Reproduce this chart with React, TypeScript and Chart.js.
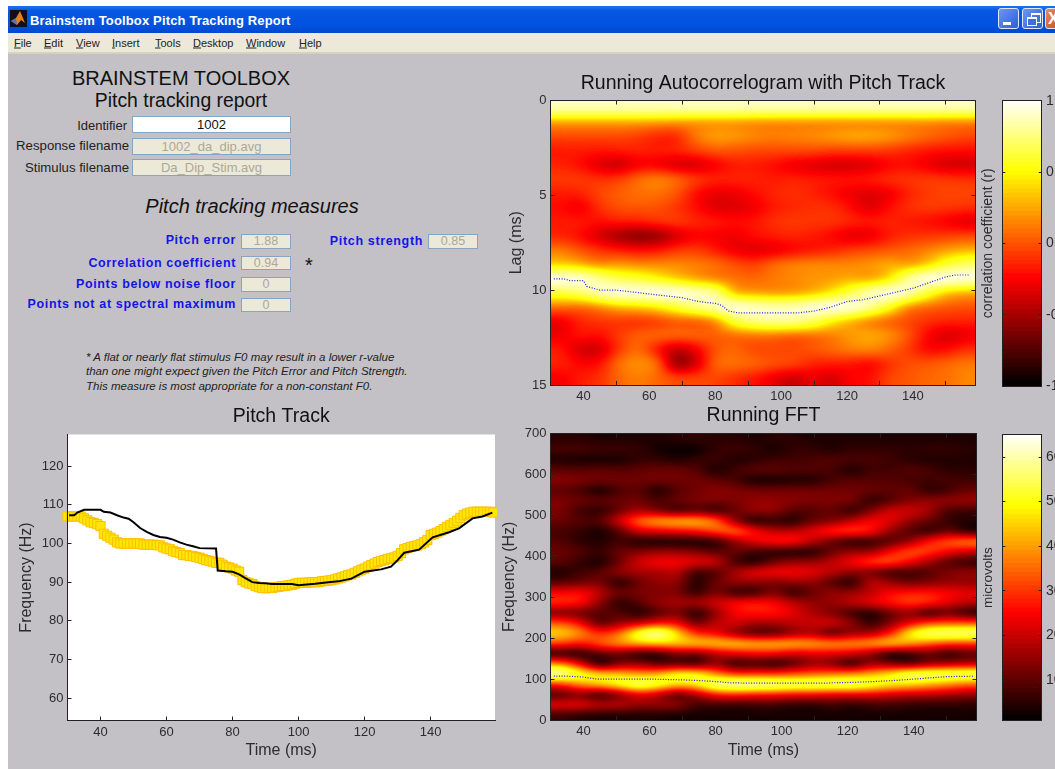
import React, { useEffect, useRef } from "react";
import { Chart, registerables } from "chart.js";

Chart.register(...registerables);
Chart.defaults.font.family = "'Liberation Sans', Arial, sans-serif";
Chart.defaults.color = "#2a2a2a";

// ---------- data ----------
const acfTimes = [33, 39, 45, 50, 56, 62, 68, 74, 80, 86, 92, 98, 103, 109, 115, 121, 127, 133, 139, 144, 150, 156];
const acfLags = [0.375, 1.125, 1.875, 2.625, 3.375, 4.125, 4.875, 5.625, 6.375, 7.125, 7.875, 8.625, 9.375, 10.125, 10.875, 11.625, 12.375, 13.125, 13.875, 14.625];
const acfValues = [
  [86, 86, 86, 86, 86, 86, 86, 86, 86, 86, 86, 86, 86, 86, 86, 86, 86, 86, 86, 86, 86, 86],
  [22, 22, 22, 22, 22, 20, 18, 18, 18, 18, 16, 15, 15, 15, 15, 15, 15, 15, 15, 15, 12, 12],
  [-5, -5, -5, -5, -8, -15, -15, 10, 22, 20, 15, 12, 14, 16, 20, 24, 24, 20, 12, 5, 0, -5],
  [-18, -18, -20, -18, -16, -18, -15, -8, 0, -2, -5, -5, -5, -5, -8, -8, -8, -10, -15, -20, -22, -22],
  [-15, -22, -35, -42, -28, -28, -38, -38, -28, -18, -18, -22, -30, -35, -38, -38, -35, -25, -22, -30, -38, -38],
  [-8, -8, -12, -8, 5, 14, 5, -8, -15, -15, -15, -18, -15, -18, -20, -20, -18, -12, -10, -8, -10, -12],
  [-18, -16, -5, 2, 8, 8, 0, -22, -32, -30, -22, -15, -12, -15, -22, -30, -35, -30, -15, -8, -5, -5],
  [-22, -30, -12, -2, 0, -2, -10, -22, -35, -35, -30, -18, -14, -12, -12, -22, -36, -22, -12, -8, -10, -12],
  [-18, -18, -22, -18, -18, -12, -8, -14, -18, -22, -20, -12, -8, -10, -10, -14, -18, -15, -18, -22, -28, -35],
  [-15, -22, -38, -52, -62, -58, -38, -26, -28, -30, -22, -18, -15, -18, -24, -35, -32, -18, -12, -10, -8, -5],
  [10, -2, -12, -18, -22, -20, -10, -8, -18, -30, -35, -32, -25, -20, -15, -8, -5, 0, 5, 12, 22, 28],
  [36, 28, 15, 20, 15, 15, 15, 12, 8, -2, -8, 5, 12, 15, 15, 15, 18, 25, 20, 35, 60, 70],
  [98, 95, 80, 65, 60, 50, 35, 22, 12, 8, 5, 10, 15, 18, 20, 25, 22, 40, 80, 98, 98, 95],
  [62, 70, 87, 97, 98, 100, 98, 90, 80, 28, 22, 18, 20, 28, 45, 65, 87, 100, 87, 60, 33, 25],
  [8, 5, 15, 30, 35, 45, 60, 75, 87, 97, 90, 87, 87, 95, 100, 97, 80, 55, 15, 5, 0, -2],
  [-30, -15, -10, -10, -12, -8, 0, 0, 15, 62, 75, 80, 80, 70, 48, 28, 12, 2, -5, -12, -15, -15],
  [-30, -20, -22, -8, 2, 5, 5, 5, 2, 5, 8, 8, 2, 5, 10, 20, 25, 18, 0, -25, -38, -30],
  [-18, -38, -40, -10, 8, -20, -45, -30, 0, 5, -5, -5, -5, 0, 5, 12, 15, 5, -8, -25, -22, -12],
  [-15, -25, -22, 8, 18, 8, -60, -40, 5, 8, 5, -2, -5, -15, -18, -20, -25, -12, -2, 0, 5, 10],
  [-28, -18, -12, 5, 12, 5, -5, -5, -5, -12, -20, -30, -42, -30, -38, -25, -22, -5, 0, 5, 8, 15],
];

const fftFreqs = [687.5, 662.5, 637.5, 612.5, 587.5, 562.5, 537.5, 512.5, 487.5, 462.5, 437.5, 412.5, 387.5, 362.5, 337.5, 312.5, 287.5, 262.5, 237.5, 212.5, 187.5, 162.5, 137.5, 112.5, 87.5, 62.5, 37.5, 12.5];
const fftValues = [
  [4, 4, 3, 3, 3, 3, 4, 5, 4, 4, 3, 4, 4, 3, 3, 3, 3, 3, 3, 3, 3, 3],
  [7, 7, 6, 6, 5, 2, 1, 1, 5, 6, 5, 2, 5, 5, 3, 5, 5, 5, 4, 5, 5, 4],
  [3, 2, 2, 2, 5, 5, 3, 5, 6, 3, 4, 6, 6, 7, 8, 7, 7, 6, 4, 3, 3, 3],
  [9, 8, 9, 8, 9, 10, 10, 8, 2, 6, 9, 9, 8, 8, 7, 3, 6, 6, 8, 7, 4, 4],
  [13, 12, 11, 11, 11, 11, 11, 11, 9, 7, 2, 2, 3, 3, 7, 8, 8, 8, 7, 6, 7, 6],
  [9, 7, 2, 7, 9, 3, 8, 11, 13, 12, 11, 11, 11, 11, 11, 11, 10, 9, 10, 4, 6, 10],
  [12, 10, 9, 10, 11, 7, 10, 12, 12, 12, 14, 14, 13, 12, 12, 12, 4, 8, 12, 14, 14, 15],
  [12, 6, 4, 10, 16, 12, 6, 9, 5, 10, 14, 14, 8, 8, 10, 4, 12, 20, 20, 16, 7, 6],
  [10, 8, 8, 20, 34, 40, 42, 42, 35, 14, 3, 5, 3, 10, 12, 18, 24, 22, 14, 10, 5, 3],
  [7, 5, 2, 8, 20, 22, 24, 26, 32, 35, 25, 18, 18, 22, 28, 30, 26, 14, 8, 4, 10, 4],
  [8, 4, 3, 6, 3, 2, 2, 2, 4, 14, 22, 26, 26, 18, 10, 4, 5, 8, 14, 26, 32, 36],
  [10, 8, 5, 10, 12, 14, 14, 12, 8, 10, 6, 4, 3, 3, 10, 14, 14, 24, 32, 30, 24, 20],
  [9, 5, 2, 10, 20, 24, 24, 22, 20, 6, 3, 10, 14, 14, 18, 24, 30, 32, 24, 16, 8, 5],
  [3, 6, 8, 14, 16, 16, 18, 6, 8, 16, 22, 24, 24, 22, 18, 14, 12, 6, 6, 8, 12, 14],
  [8, 10, 12, 3, 10, 14, 14, 3, 10, 14, 14, 12, 14, 14, 8, 3, 18, 14, 10, 12, 14, 14],
  [24, 25, 18, 10, 12, 12, 12, 4, 12, 5, 5, 12, 4, 10, 14, 14, 18, 24, 26, 26, 24, 22],
  [28, 26, 14, 4, 8, 14, 16, 16, 20, 24, 26, 24, 18, 14, 14, 18, 22, 26, 30, 28, 22, 18],
  [12, 10, 8, 8, 3, 8, 12, 3, 14, 24, 26, 26, 22, 16, 12, 6, 3, 10, 14, 5, 10, 4],
  [32, 24, 8, 14, 18, 24, 24, 10, 18, 20, 16, 16, 18, 20, 20, 14, 4, 12, 22, 30, 32, 32],
  [45, 38, 28, 34, 52, 60, 46, 28, 24, 14, 8, 8, 14, 16, 8, 14, 16, 26, 48, 56, 57, 57],
  [30, 26, 32, 38, 42, 44, 44, 44, 44, 44, 42, 42, 42, 40, 38, 38, 40, 44, 40, 34, 30, 30],
  [4, 3, 8, 10, 4, 4, 12, 10, 18, 22, 24, 24, 20, 22, 22, 20, 14, 3, 5, 10, 4, 8],
  [38, 22, 3, 12, 14, 8, 8, 6, 14, 4, 6, 3, 8, 14, 12, 4, 14, 12, 8, 14, 16, 18],
  [60, 52, 46, 44, 40, 42, 50, 50, 38, 30, 30, 30, 32, 34, 36, 38, 42, 48, 55, 56, 56, 56],
  [28, 38, 44, 50, 56, 52, 46, 48, 58, 60, 60, 58, 56, 56, 56, 56, 52, 48, 46, 42, 38, 34],
  [8, 12, 5, 12, 22, 18, 8, 16, 26, 28, 26, 26, 24, 24, 22, 22, 22, 20, 18, 18, 16, 14],
  [22, 22, 18, 18, 14, 14, 14, 6, 6, 5, 6, 6, 4, 4, 6, 4, 6, 6, 5, 4, 4, 4],
  [6, 4, 3, 3, 3, 3, 2, 2, 2, 2, 2, 2, 2, 2, 2, 2, 2, 2, 2, 2, 2, 2],
];

const lagTrackTimes = [31, 34, 36, 40, 41, 45, 50, 55, 60, 65, 70, 75, 80, 82, 84, 87, 95, 105, 110, 115, 120, 125, 130, 135, 140, 145, 150, 153, 157];
const lagTrackLags = [9.4, 9.4, 9.5, 9.5, 9.8, 10, 10, 10.1, 10.2, 10.3, 10.4, 10.6, 10.7, 10.8, 11.1, 11.2, 11.2, 11.2, 11.1, 10.9, 10.6, 10.5, 10.3, 10.1, 9.9, 9.6, 9.3, 9.2, 9.2];
const fftTrackTimes = [31, 35, 40, 44, 60, 70, 76, 80, 84, 90, 100, 113, 116, 122, 128, 135, 140, 145, 150, 158];
const fftTrackHz = [107, 107, 105, 100, 100, 98, 96, 94, 91, 90, 90, 90, 91, 92, 94, 97, 100, 103, 106, 107];

const stimTimes = [30.5, 32, 33, 35, 40, 41, 43, 45, 47, 48.5, 50, 52, 54, 56, 58, 60, 62, 64, 66, 68, 70, 75, 75.5, 78, 80, 82, 84, 86, 88, 90, 92, 95, 98, 100, 105, 109, 112, 116, 120, 125, 128, 130, 132, 136.5, 140.6, 145.6, 148.6, 152.7, 155.7, 158.7];
const stimHz = [107.3, 107.3, 108, 108.7, 108.7, 108.2, 108, 107.3, 106.7, 106.4, 105.5, 104, 103, 102.2, 101.7, 101.5, 101, 100.3, 99.7, 99.3, 98.8, 98.7, 93, 92.8, 92.7, 92, 91, 90, 89.8, 89.7, 89.5, 89.5, 89.5, 89.2, 89.6, 90, 90.2, 90.9, 92.7, 93.3, 94, 95.7, 97.6, 98.4, 101.6, 102.9, 103.9, 106.5, 107, 108];
const respTimes = [30, 31, 32, 33, 34, 35, 36, 37, 38, 39, 40, 41, 42, 43, 44, 45, 46, 47, 48, 49, 50, 51, 52, 53, 54, 55, 56, 57, 58, 59, 60, 61, 62, 63, 64, 65, 66, 67, 68, 69, 70, 71, 72, 73, 74, 75, 76, 77, 78, 79, 80, 81, 82, 83, 84, 85, 86, 87, 88, 89, 90, 91, 92, 93, 94, 95, 96, 97, 98, 99, 100, 101, 102, 103, 104, 105, 106, 107, 108, 109, 110, 111, 112, 113, 114, 115, 116, 117, 118, 119, 120, 121, 122, 123, 124, 125, 126, 127, 128, 129, 130, 131, 132, 133, 134, 135, 136, 137, 138, 139, 140, 141, 142, 143, 144, 145, 146, 147, 148, 149, 150, 151, 152, 153, 154, 155, 156, 157, 158, 159];
const respHz = [107, 107, 107, 107, 107, 106.5, 106, 105.5, 105.3, 105, 104.5, 102.5, 102, 101.5, 101, 100.3, 100, 100, 100, 100, 100, 100, 100, 99.7, 99.7, 99.7, 99.7, 99.6, 99.5, 99, 98.7, 98.5, 98, 97.8, 97.5, 97, 97, 96.8, 96.7, 96.5, 96.3, 96, 95.7, 95.5, 95.3, 95, 95, 94.5, 94, 93.8, 93.5, 93, 92.7, 90.5, 90, 89.7, 89.5, 89, 88.7, 88.5, 88.4, 88.5, 88.5, 88.7, 88.8, 89, 89, 89.2, 89.3, 89.6, 89.8, 89.8, 89.8, 89.9, 90, 90, 90, 90.2, 90.3, 90.4, 90.5, 90.7, 91, 91.2, 91.5, 91.8, 92, 92.4, 92.8, 93.2, 93.5, 94, 94.4, 94.8, 95.2, 95.5, 95.7, 96, 96.2, 96.4, 96.8, 97.5, 98.5, 98.8, 99.1, 99.3, 99.5, 99.8, 100.3, 100.9, 102.2, 102.5, 102.8, 103.2, 103.7, 104.3, 104.8, 105.3, 105.9, 106.6, 107.3, 107.7, 108, 108.2, 108.2, 108.2, 108.2, 108.2, 108.2, 108];

const timeTickStep = 20;
const barLevels = 64;

// ---------- helpers ----------
function hotRGB(t: number) {
  const c = Math.max(0, Math.min(1, t));
  const r = Math.min(1, c / 0.375);
  const g = Math.max(0, Math.min(1, (c - 0.375) / 0.375));
  const b = Math.max(0, Math.min(1, (c - 0.75) / 0.25));
  return [Math.round(r * 255), Math.round(g * 255), Math.round(b * 255)];
}
function hot(t: number) {
  const [r, g, b] = hotRGB(t);
  return `rgb(${r},${g},${b})`;
}

const XMIN = 30;
const XMAX = 159;

function axis(o: any) {
  const horizontal = o.position === "top" || o.position === "bottom";
  return {
    type: "linear",
    position: o.position,
    min: o.min,
    max: o.max,
    reverse: !!o.reverse,
    offset: false,
    afterFit: (s: any) => {
      if (horizontal) s.height = o.size || 0;
      else s.width = o.size || 0;
      s.paddingTop = 0;
      s.paddingBottom = 0;
      s.paddingLeft = 0;
      s.paddingRight = 0;
    },
    border: { display: o.border !== false, color: "#222", width: 1, z: 2 },
    grid: {
      display: o.step !== undefined,
      drawOnChartArea: false,
      drawTicks: true,
      tickLength: -(o.tick ?? 4),
      color: "#222",
      z: 2,
    },
    ticks: {
      display: !!o.labels,
      stepSize: o.step,
      includeBounds: false,
      autoSkip: false,
      maxRotation: 0,
      minRotation: 0,
      padding: o.labelPad ?? 8,
      color: "#2c2c2c",
      font: { size: o.fontSize ?? 13 },
      z: 2,
    },
    title: o.title
      ? {
          display: true,
          text: o.title,
          color: "#2c2c2c",
          font: { size: o.titleSize ?? 16 },
          padding: { top: o.titlePad ?? 0, bottom: 0 },
        }
      : { display: false },
  };
}

function heatDatasets(times: number[], rowsEdges: number[], values: number[][], toT: (v: number) => number, half: number) {
  return rowsEdges.map((c, r) => ({
    type: "bar",
    order: 1,
    grouped: false,
    barPercentage: 1,
    categoryPercentage: 1,
    borderWidth: 0,
    data: times.map((t, i) => ({ x: XMIN + ((i + 0.5) * (XMAX - XMIN)) / times.length, y: [c - half, c + half] })),
    backgroundColor: values[r].map((v) => hot(toT(v))),
  }));
}

// Re-samples the drawn cells smoothly: colours are turned back into colormap
// positions, smoothed there, and coloured again so the ramp stays the hot map.
function smoother(cols: number, rows: number) {
  return {
    id: "smoothHeat",
    beforeDatasetDraw(chart: any, args: any) {
      if (args.meta.type !== "line") return;
      const a = chart.chartArea;
      const off = document.createElement("canvas");
      off.width = cols;
      off.height = rows;
      const o = off.getContext("2d")!;
      o.imageSmoothingEnabled = false;
      o.drawImage(chart.canvas, a.left, a.top, a.width, a.height, 0, 0, cols, rows);
      const cells = o.getImageData(0, 0, cols, rows);
      for (let i = 0; i < cells.data.length; i += 4) {
        const s = (cells.data[i] + cells.data[i + 1] + cells.data[i + 2]) / 3;
        cells.data[i] = cells.data[i + 1] = cells.data[i + 2] = s;
        cells.data[i + 3] = 255;
      }
      o.putImageData(cells, 0, 0);

      const left = Math.round(a.left);
      const top = Math.round(a.top);
      const w = Math.round(a.right) - left;
      const h = Math.round(a.bottom) - top;
      const mid = document.createElement("canvas");
      mid.width = w;
      mid.height = h * 2;
      const m = mid.getContext("2d")!;
      m.imageSmoothingEnabled = true;
      m.imageSmoothingQuality = "high";
      m.drawImage(off, 0, 0, cols, rows, 0, 0, w, h * 2);
      m.filter = "blur(5px)";
      m.drawImage(off, 0, 0, cols, rows, 0, 0, w, h * 2);

      const out = document.createElement("canvas");
      out.width = w;
      out.height = h;
      const q = out.getContext("2d")!;
      q.imageSmoothingEnabled = true;
      q.imageSmoothingQuality = "high";
      q.drawImage(mid, 0, 0, w, h * 2, 0, 0, w, h);
      const img = q.getImageData(0, 0, w, h);
      for (let i = 0; i < img.data.length; i += 4) {
        const s = (img.data[i] / 255) * 3;
        const t = s <= 2 ? 0.375 * s : 0.75 + 0.25 * (s - 2);
        const [r, g, b] = hotRGB(t);
        img.data[i] = r;
        img.data[i + 1] = g;
        img.data[i + 2] = b;
        img.data[i + 3] = 255;
      }
      chart.ctx.putImageData(img, left, top);
    },
  };
}

const whiteArea = {
  id: "whiteArea",
  beforeDatasetsDraw(chart: any) {
    const a = chart.chartArea;
    chart.ctx.save();
    chart.ctx.fillStyle = "#fff";
    chart.ctx.fillRect(a.left, a.top, a.width, a.height);
    chart.ctx.restore();
  },
};

function baseOptions(title: string | null, pad: any, tp: any, scales: any) {
  return {
    responsive: false,
    maintainAspectRatio: false,
    animation: false,
    devicePixelRatio: 1,
    events: [],
    layout: { autoPadding: false, padding: pad },
    plugins: {
      legend: { display: false },
      tooltip: { enabled: false },
      title: title
        ? { display: true, text: title, fullSize: false, color: "#111", font: { size: 19.5, weight: "normal" }, padding: tp }
        : { display: false },
    },
    scales,
  };
}

function frameAxes(xMin: number, xMax: number, yMin: number, yMax: number, yStep: number, reverse: boolean, yTitle: string, titlePad: number) {
  return {
    x: axis({ position: "bottom", min: xMin, max: xMax, step: timeTickStep, labels: true, size: 22 }),
    x2: axis({ position: "top", min: xMin, max: xMax, step: timeTickStep, size: 0 }),
    y: axis({ position: "left", min: yMin, max: yMax, step: yStep, reverse, labels: true, size: 60.5, title: yTitle, titlePad }),
    y2: axis({ position: "right", min: yMin, max: yMax, step: yStep, reverse, size: 0 }),
  };
}

const acfScales = frameAxes(XMIN, XMAX, 0, 15, 5, true, "Lag (ms)", 16.8);
const fftScales = frameAxes(XMIN, XMAX, 0, 700, 100, false, "Frequency (Hz)", 10);
fftScales.x = axis({ position: "bottom", min: XMIN, max: XMAX, step: timeTickStep, labels: true, size: 40, title: "Time (ms)" });

const trackLine = { type: "line", order: 0, borderColor: "#1c22ea", borderWidth: 1.2, borderDash: [1, 1.6], pointRadius: 0, fill: false };

const configs: any[] = [
  {
    box: { left: 490, top: 62, width: 495, height: 345 },
    type: "bar",
    plugins: [smoother(acfTimes.length, acfLags.length)],
    data: {
      datasets: [
        ...heatDatasets(acfTimes, acfLags, acfValues, (v) => (v / 100 + 1) / 2, 0.375),
        { ...trackLine, data: lagTrackTimes.map((x, i) => ({ x, y: lagTrackLags[i] })) },
      ],
    },
    options: baseOptions("Running Autocorrelogram with Pitch Track", { right: 9.5 }, { top: 10.3, bottom: 4.8 }, acfScales),
  },
  {
    box: { left: 490, top: 400, width: 496, height: 360 },
    type: "bar",
    plugins: [smoother(acfTimes.length, fftFreqs.length)],
    data: {
      datasets: [
        ...heatDatasets(acfTimes, fftFreqs, fftValues, (v) => v / 65, 12.5),
        { ...trackLine, data: fftTrackTimes.map((x, i) => ({ x, y: fftTrackHz[i] })) },
      ],
    },
    options: baseOptions("Running FFT", { right: 9.5 }, { top: 4.3, bottom: 5.8 }, fftScales),
  },
  {
    box: { left: 8, top: 400, width: 489, height: 360 },
    type: "line",
    plugins: [whiteArea],
    data: {
      datasets: [
        {
          order: 0,
          data: stimTimes.map((x, i) => ({ x, y: stimHz[i] })),
          borderColor: "#000",
          borderWidth: 2,
          pointRadius: 0,
          clip: false,
        },
        {
          order: 1,
          data: respTimes.map((x, i) => ({ x, y: respHz[i] })),
          showLine: false,
          pointStyle: "rect",
          pointRadius: 6.5,
          pointBackgroundColor: "#FFE800",
          pointBorderColor: "#FFBE00",
          pointBorderWidth: 1,
          clip: false,
        },
      ],
    },
    options: baseOptions("Pitch Track", { right: 2 }, { top: 5.3, bottom: 5.8 }, {
      x: axis({ position: "bottom", min: XMIN, max: 159.5, step: timeTickStep, labels: true, size: 39.5, title: "Time (ms)" }),
      y: axis({ position: "left", min: 54.2, max: 128.2, step: 10, labels: true, size: 59.5, title: "Frequency (Hz)", titlePad: 9 }),
    }),
  },
];

function colorbar(box: any, pad: any, min: number, max: number, step: number, title: string, titleSize: number) {
  const span = (max - min) / barLevels;
  const levels = Array.from({ length: barLevels }, (_, i) => i);
  return {
    box,
    type: "bar",
    plugins: [],
    data: {
      datasets: levels.map((i) => ({
        grouped: false,
        barPercentage: 1,
        categoryPercentage: 1,
        borderWidth: 0,
        data: [{ x: 0.5, y: [min + i * span, min + (i + 1) * span + span * 0.2] }],
        backgroundColor: hot((i + 0.5) / barLevels),
      })),
    },
    options: baseOptions(null, pad, null, {
      x: axis({ position: "bottom", min: 0, max: 1, size: 0 }),
      x2: axis({ position: "top", min: 0, max: 1, size: 0 }),
      y: axis({ position: "right", min, max, step, labels: true, size: 18.3, tick: 3, labelPad: 7.3, fontSize: 14 }),
      yl: axis({ position: "left", min, max, step, size: 24.3, tick: 3, title, titleSize, titlePad: 2 }),
    }),
  };
}

const cbCorrTicks = 0.5;
const cbFftTicks = 10;
configs.push(colorbar({ left: 978, top: 90, width: 82, height: 310 }, { top: 10.7, bottom: 14 }, -1, 1, cbCorrTicks, "correlation coefficient (r)", 14));
configs.push(colorbar({ left: 978, top: 420, width: 82, height: 310 }, { top: 14.7, bottom: 9.3 }, 0.9, 65, cbFftTicks, "microvolts", 13.5));

// ---------- page parts ----------
function ChartCanvas({ cfg }: { cfg: any }) {
  const ref = useRef<HTMLCanvasElement | null>(null);
  useEffect(() => {
    const chart = new Chart(ref.current as any, { type: cfg.type, data: cfg.data, options: cfg.options, plugins: cfg.plugins } as any);
    return () => chart.destroy();
  }, [cfg]);
  const { left, top, width, height } = cfg.box;
  return <canvas ref={ref} width={width} height={height} style={{ position: "absolute", left, top, width, height }} />;
}

const SANS = "'Liberation Sans', Arial, sans-serif";

function T({ x, y, align = "center", children, style }: any) {
  const tx = align === "center" ? "-50%" : align === "right" ? "-100%" : "0";
  return (
    <div style={{ position: "absolute", left: x, top: y, transform: `translate(${tx},-50%)`, whiteSpace: "nowrap", fontFamily: SANS, color: "#222", lineHeight: 1, ...style }}>
      {children}
    </div>
  );
}

function Field({ x, y, w, h, text, white, size }: any) {
  return (
    <div
      style={{
        position: "absolute",
        left: x,
        top: y,
        width: w,
        height: h,
        boxSizing: "border-box",
        border: "1px solid #86A5C4",
        background: white ? "#fff" : "#ECE9D8",
        color: white ? "#111" : "#ACA899",
        fontFamily: SANS,
        fontSize: size ?? 13,
        textAlign: "center",
        lineHeight: `${h - 2}px`,
      }}
    >
      {text}
    </div>
  );
}

const menuItems: [string, number][] = [
  ["File", 14],
  ["Edit", 44],
  ["View", 76],
  ["Insert", 112],
  ["Tools", 155],
  ["Desktop", 193],
  ["Window", 246],
  ["Help", 299],
];

const blueLabels: [string, number, number][] = [
  ["Pitch error", 236, 240],
  ["Correlation coefficient", 236, 263],
  ["Points below noise floor", 236, 284],
  ["Points not at spectral maximum", 236, 304],
  ["Pitch strength", 423, 241],
];
const measureFields: [number, number, number, string][] = [
  [241, 234, 15, "1.88"],
  [241, 256, 14, "0.94"],
  [241, 277, 15, "0"],
  [241, 298, 14, "0"],
  [428, 234, 15, "0.85"],
];
const noteLines: [string, number][] = [
  ["* A flat or nearly flat stimulus F0 may result in a lower r-value", 358],
  ["than one might expect given the Pitch Error and Pitch Strength.", 372],
  ["This measure is most appropriate for a non-constant F0.", 387],
];

function WinButton({ x, w, bg, children }: any) {
  return (
    <div style={{ position: "absolute", left: x, top: 8, width: w, height: 21, boxSizing: "border-box", borderRadius: 3, border: "1px solid #dfe8fb", background: bg, overflow: "hidden" }}>
      {children}
    </div>
  );
}

export default function App() {
  return (
    <div style={{ position: "fixed", left: 0, top: 0, width: 1055, height: 769, overflow: "hidden", background: "#fff", filter: "blur(0.35px)" }}>
      <div style={{ position: "absolute", left: 8, top: 54, width: 1047, height: 715, background: "#C3C1C5" }} />
      <div style={{ position: "absolute", left: 8, top: 6, width: 1047, height: 27, background: "linear-gradient(#1B75EE 0%, #0558E2 18%, #0252E0 70%, #0048CC 100%)" }} />
      <div style={{ position: "absolute", left: 8, top: 33, width: 1047, height: 19, background: "#ECE9D8" }} />
      <div style={{ position: "absolute", left: 8, top: 52, width: 1047, height: 2, background: "#D6D2C2" }} />
      <svg style={{ position: "absolute", left: 10, top: 10 }} width="17" height="17">
        <rect width="17" height="17" fill="#101018" />
        <path d="M1 11 L6 8 L10 1 L15 13 L11 10 L7 15 Z" fill="#E8801C" />
        <path d="M1 11 L6 8 L7 15 Z" fill="#4A78B0" />
      </svg>
      <T x={30} y={20} align="left" style={{ color: "#fff", fontWeight: 700, fontSize: 13, letterSpacing: 0.15 }}>
        Brainstem Toolbox Pitch Tracking Report
      </T>
      <WinButton x={998} w={21} bg="linear-gradient(135deg,#6C96F0,#2A5FDC)">
        <div style={{ position: "absolute", left: 4, top: 13, width: 8, height: 3, background: "#fff" }} />
      </WinButton>
      <WinButton x={1022} w={21} bg="linear-gradient(135deg,#6C96F0,#2A5FDC)">
        <div style={{ position: "absolute", left: 8, top: 4, width: 8, height: 7, border: "1px solid #fff", borderTopWidth: 2 }} />
        <div style={{ position: "absolute", left: 4, top: 8, width: 8, height: 6, border: "1px solid #fff", borderTopWidth: 2, background: "#3F6EE0" }} />
      </WinButton>
      <WinButton x={1045} w={21} bg="linear-gradient(135deg,#E88A60,#C8451C)">
        <div style={{ position: "absolute", left: 2, top: 0, color: "#fff", fontFamily: SANS, fontWeight: 700, fontSize: 16, lineHeight: "19px" }}>X</div>
      </WinButton>
      {menuItems.map(([m, x]) => (
        <T key={m} x={x} y={42.5} align="left" style={{ fontSize: 11, color: "#222" }}>
          <span style={{ textDecoration: "underline" }}>{m[0]}</span>
          {m.slice(1)}
        </T>
      ))}

      <T x={181} y={78} style={{ fontSize: 20, color: "#111" }}>BRAINSTEM TOOLBOX</T>
      <T x={181} y={101} style={{ fontSize: 19.4, color: "#111" }}>Pitch tracking report</T>
      <T x={127} y={125} align="right" style={{ fontSize: 13 }}>Identifier</T>
      <T x={129} y={146} align="right" style={{ fontSize: 13.2 }}>Response filename</T>
      <T x={129} y={168} align="right" style={{ fontSize: 13.2 }}>Stimulus filename</T>
      <Field x={132} y={116} w={159} h={17} text="1002" white />
      <Field x={132} y={138} w={159} h={17} text="1002_da_dip.avg" />
      <Field x={132} y={159} w={159} h={17} text="Da_Dip_Stim.avg" />

      <T x={252} y={206} style={{ fontSize: 20, fontStyle: "italic", color: "#111" }}>Pitch tracking measures</T>
      {blueLabels.map(([t, x, y]) => (
        <T key={t} x={x} y={y} align="right" style={{ fontSize: 12.5, fontWeight: 700, color: "#1414E6", letterSpacing: 0.65 }}>{t}</T>
      ))}
      {measureFields.map(([x, y, h, t]) => (
        <Field key={`${x}-${y}`} x={x} y={y} w={50} h={h} text={t} size={12.5} />
      ))}
      <T x={309} y={265} style={{ fontSize: 20, color: "#111" }}>*</T>
      {noteLines.map(([t, y]) => (
        <T key={t} x={86} y={y} align="left" style={{ fontSize: 11.5, fontStyle: "italic", color: "#222" }}>{t}</T>
      ))}

      {configs.map((c, i) => (
        <ChartCanvas key={i} cfg={c} />
      ))}
    </div>
  );
}
